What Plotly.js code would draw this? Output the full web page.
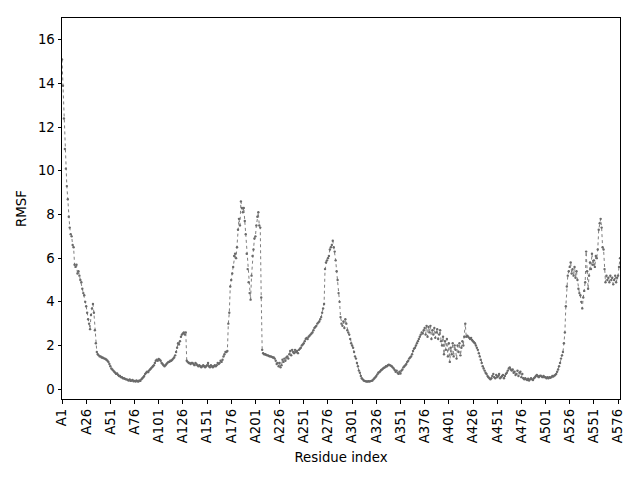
<!DOCTYPE html>
<html>
<head>
<meta charset="utf-8">
<script src="https://cdn.plot.ly/plotly-3.0.1.min.js"></script>
<style>
html,body{margin:0;padding:0;background:#fff}
#chart{width:640px;height:480px}
</style>
</head>
<body>
<div id="chart"></div>
<script>
// RMSF per residue (residues 1..578)
let rmsf=[
// 1-25
15.1,13.9,12.4,11.0,10.1,9.3,8.7,7.9,7.4,7.1,7.0,6.6,6.5,5.7,5.6,5.7,5.3,5.4,5.2,5.0,4.9,4.6,4.4,4.3,4.0,
// 26-50
3.8,3.5,3.2,3.0,2.75,3.4,3.7,3.9,3.5,2.7,2.1,1.7,1.6,1.55,1.5,1.5,1.45,1.45,1.42,1.4,1.38,1.35,1.3,1.25,1.15,
// 51-75
1.05,0.95,0.9,0.85,0.8,0.75,0.7,0.72,0.65,0.6,0.6,0.55,0.55,0.5,0.5,0.48,0.45,0.45,0.42,0.4,0.45,0.38,0.4,0.42,0.36,
// 76-100
0.38,0.35,0.4,0.36,0.35,0.4,0.38,0.45,0.5,0.55,0.6,0.7,0.75,0.8,0.78,0.85,0.9,0.95,1.0,1.05,1.1,1.2,1.3,1.35,1.3,
// 101-125
1.38,1.35,1.3,1.2,1.15,1.1,1.05,1.1,1.15,1.2,1.25,1.25,1.3,1.3,1.35,1.4,1.45,1.55,1.7,1.9,2.1,2.05,2.2,2.4,2.5,
// 126-150
2.55,2.6,2.5,2.6,1.3,1.25,1.2,1.2,1.15,1.2,1.2,1.15,1.1,1.2,1.15,1.1,1.05,1.1,1.05,1.0,1.05,1.1,1.05,1.0,1.05,
// 151-175
1.1,1.2,1.05,1.0,1.1,1.05,1.0,1.05,1.1,1.05,1.1,1.2,1.15,1.2,1.3,1.25,1.35,1.5,1.6,1.7,1.7,1.75,3.0,3.5,4.7,
// 176-200
5.0,5.3,5.6,6.1,6.2,6.0,6.5,7.3,7.8,7.5,8.6,8.3,8.1,8.3,7.7,7.1,6.2,5.5,4.9,4.4,4.1,5.2,6.1,6.4,6.9,
// 201-225
7.0,7.5,7.9,8.1,7.5,7.4,4.2,1.8,1.65,1.6,1.6,1.58,1.55,1.55,1.52,1.5,1.5,1.48,1.45,1.45,1.4,1.3,1.15,1.2,1.05,
// 226-250
1.2,1.0,1.1,1.35,1.25,1.4,1.3,1.45,1.5,1.4,1.6,1.75,1.55,1.8,1.7,1.65,1.8,1.7,1.75,1.65,1.8,1.85,1.9,2.0,2.05,
// 251-275
2.1,2.2,2.3,2.35,2.3,2.4,2.45,2.5,2.55,2.6,2.7,2.8,2.85,2.9,3.0,3.05,3.1,3.2,3.3,3.5,3.7,3.9,5.5,5.8,5.9,
// 276-300
6.0,6.1,6.4,6.5,6.6,6.8,6.5,6.3,5.9,5.4,5.0,4.4,4.0,3.3,3.0,2.9,3.1,2.8,3.2,3.0,2.7,2.6,2.5,2.3,2.1,
// 301-325
2.0,1.9,1.7,1.5,1.4,1.2,1.05,0.85,0.75,0.6,0.5,0.45,0.4,0.38,0.36,0.35,0.35,0.36,0.35,0.37,0.38,0.4,0.45,0.5,0.55,
// 326-350
0.6,0.68,0.75,0.78,0.82,0.88,0.9,0.95,0.98,1.0,1.05,1.05,1.1,1.12,1.1,1.08,1.05,1.0,0.95,0.88,0.8,0.85,0.75,0.7,0.8,
// 351-375
0.72,0.85,0.9,1.0,1.05,1.1,1.15,1.25,1.3,1.4,1.45,1.5,1.6,1.75,1.85,1.9,2.0,2.1,2.2,2.3,2.4,2.5,2.6,2.55,2.7,
// 376-400
2.8,2.5,2.9,2.4,2.85,2.6,2.9,2.3,2.7,2.5,2.8,2.35,2.6,2.75,2.3,2.5,2.7,2.2,2.0,2.4,1.6,2.2,1.8,2.3,1.5,
// 401-425
2.1,1.25,1.9,1.6,2.1,1.5,2.0,1.8,1.4,2.0,1.7,2.1,1.55,1.9,2.2,2.0,2.4,3.0,2.4,2.45,2.4,2.35,2.3,2.35,2.25,
// 426-450
2.2,2.15,2.1,2.0,1.9,1.8,1.65,1.5,1.35,1.2,1.05,0.95,0.85,0.75,0.7,0.6,0.55,0.5,0.45,0.5,0.6,0.7,0.55,0.5,0.65,
// 451-475
0.55,0.6,0.7,0.5,0.55,0.6,0.65,0.5,0.6,0.7,0.75,0.85,0.95,1.0,0.9,0.85,0.9,0.75,0.8,0.65,0.7,0.85,0.6,0.75,0.8,
// 476-500
0.55,0.7,0.5,0.45,0.5,0.45,0.42,0.48,0.4,0.45,0.5,0.45,0.42,0.5,0.55,0.6,0.65,0.6,0.55,0.6,0.62,0.58,0.55,0.6,0.55,
// 501-525
0.55,0.5,0.55,0.5,0.55,0.52,0.55,0.6,0.58,0.62,0.65,0.7,0.8,0.9,1.05,1.2,1.4,1.55,1.7,2.1,2.6,3.8,4.7,5.2,5.4,
// 526-550
5.6,5.8,5.3,5.5,5.2,5.6,5.1,5.4,5.0,4.6,4.4,4.3,4.0,3.7,4.2,4.5,4.9,6.3,5.4,4.6,5.2,5.8,5.5,6.2,5.7,
// 551-575
5.9,5.6,6.1,6.0,6.4,7.3,7.6,7.8,7.4,6.5,6.4,5.5,4.9,5.2,5.0,5.1,4.9,5.2,5.0,5.1,4.8,5.0,5.2,4.9,5.1,
// 576-578
5.2,5.6,6.0
]

let tickVals=[1,26,51,76,101,126,151,176,201,226,251,276,301,326,351,376,401,426,451,476,501,526,551,576]
let tickLabels=["A1","A26","A51","A76","A101","A126","A151","A176","A201","A226","A251","A276","A301","A326","A351","A376","A401","A426","A451","A476","A501","A526","A551","A576"]

let residues=rmsf.map((v,i)=>i+1)

let font={family:"DejaVu Sans, sans-serif",size:13.3,color:"#000"}

let axisBase={
showline:true,
mirror:true,
linecolor:"#000",
linewidth:1,
ticks:"outside",
ticklen:3.5,
tickwidth:1,
tickcolor:"#000",
showgrid:false,
zeroline:false,
tickfont:font
}

Plotly.newPlot("chart",[{
x:residues,
y:rmsf,
type:"scatter",
mode:"lines+markers",
line:{color:"#808080",width:1,dash:"dot"},
marker:{color:"#6a6a6a",size:2.4},
hoverinfo:"none"
}],{
width:640,
height:480,
paper_bgcolor:"#fff",
plot_bgcolor:"#fff",
font:font,
showlegend:false,
margin:{l:62,r:20,t:18,b:81},
xaxis:Object.assign({},axisBase,{
range:[1,578],
tickmode:"array",
tickvals:tickVals,
ticktext:tickLabels,
tickangle:-90,
title:{text:"Residue index",font:font,standoff:10}
}),
yaxis:Object.assign({},axisBase,{
range:[-0.45,17],
tickmode:"array",
tickvals:[0,2,4,6,8,10,12,14,16],
title:{text:"RMSF",font:font,standoff:8}
})
},{staticPlot:true})
</script>
</body>
</html>
